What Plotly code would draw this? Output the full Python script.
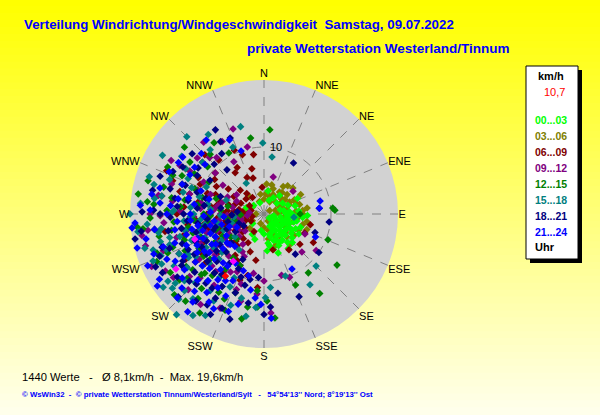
import plotly.graph_objects as go

# wind direction (deg) / wind speed (km/h) pairs, per time-of-day class
h00_03 = [(95,3.5),(110,4.0),(120,3.2),(135,4.5),(150,3.8),(160,4.2),(100,2.5),(80,3.0),(70,3.8),(125,5.0),
          (140,5.5),(155,5.2),(170,4.8),(115,2.0),(105,4.6),(90,4.2),(85,5.2),(130,2.8),(145,3.0),(165,3.5),
          (175,5.5),(60,3.2),(50,2.5),(40,3.6),(30,2.8),(20,2.2),(75,4.8),(65,5.5),(110,5.8),(120,6.0),
          (130,4.0),(140,2.2),(150,2.5),(100,1.5),(95,5.8),(88,3.2),(115,1.2),(160,6.2),(180,3.0),(190,2.5),
          (200,4.0),(210,3.5),(230,2.2),(250,3.0),(270,4.2),(290,2.8),(310,2.0),(340,1.8),(10,3.5),(135,6.0),
          (145,6.3),(125,3.0),(118,4.3),(102,5.0),(92,6.5),(155,2.0),(165,3.2),(172,4.4),(138,1.8),(128,1.0),
          (100,3.8),(110,2.8),(120,4.8),(130,5.5),(140,4.0),(150,4.8),(160,3.0),(95,4.8),(105,3.3),(115,5.2),
          (125,4.0),(135,3.5),(145,4.8),(155,4.3),(85,3.8),(75,2.5),(165,5.5),(112,3.6),(122,2.2),(142,3.8)]
h03_06 = [(60,3.0),(70,4.0),(80,3.5),(90,4.5),(100,3.0),(110,4.0),(120,3.5),(45,2.5),(30,3.0),(20,4.0),
          (10,3.5),(350,3.0),(340,2.0),(50,4.5),(65,5.0),(75,5.5),(85,5.8),(95,5.2),(105,6.0),(115,5.7),
          (125,5.5),(135,4.8),(145,4.0),(155,3.5),(165,2.5),(40,4.2),(55,3.8),(35,5.0),(25,2.0),(15,2.8),
          (5,4.5),(88,2.2),(98,1.5),(72,1.8),(130,2.0),(150,1.2),(180,2.0),(200,1.5),(240,2.0),(260,2.5),
          (280,3.0),(300,2.0),(320,3.5),(62,6.2),(82,6.5),(110,6.8),(140,6.0),(160,5.0),(170,3.8),(48,5.8),
          (0,2.2),(225,3.0),(270,1.2),(58,1.0),(118,2.8),(55,3.2),(65,4.2),(75,3.0),(85,4.8),(95,3.8),
          (105,4.5),(115,3.2),(45,3.5),(35,4.0),(25,3.2),(15,4.5),(5,3.0),(70,5.0),(90,5.8),(100,6.5),
          (120,4.8),(130,4.2),(60,2.5),(80,2.8),(40,5.5)]
h06_09 = [(294,15.9),(299,11.2),(340,9.4),(343,5.6),(356,4.0),(103,7.1),(115,6.7),(166,5.5),(209,4.9),(315,12.5),
          (305,9.0),(325,7.5),(285,13.0),(200,10.5),(190,7.0),(250,3.0),(260,4.2),(270,2.5),(280,3.8),(290,4.5),
          (240,5.0),(255,6.2),(265,7.0),(275,5.5),(285,6.8),(300,5.2),(310,3.5),(230,6.5),(245,8.0),(260,9.2),
          (270,8.5),(280,10.0),(235,3.5),(220,4.8),(215,7.5),(250,10.5),(258,1.8),(268,5.0),(292,7.8),(300,2.5),
          (320,4.0),(230,9.0),(262,11.5),(248,7.2),(238,11.0),(275,3.2),(285,2.0),(255,4.8),(242,2.2),(268,6.2),
          (278,8.0),(252,5.6),(295,10.5),(226,5.8),(210,3.0),(245,4.0),(255,2.8),(265,3.5),(275,4.5),(285,5.5),
          (295,3.8),(305,6.5),(315,5.0),(325,3.0),(335,6.0),(250,6.8),(260,5.8),(270,6.0),(280,7.2),(290,9.0),
          (300,8.2),(310,9.5),(320,10.5),(240,7.8),(230,4.2),(220,6.2),(210,8.0),(255,8.8),(265,10.2),(275,12.0),
          (285,11.5),(245,10.0),(235,12.5),(225,9.8),(200,6.0),(330,8.0),(345,7.0),(350,9.0),(335,10.5),(310,12.0),
          (300,13.5),(290,14.5),(270,13.0),(255,12.5),(240,13.5),(230,11.5),(215,10.5),(205,8.5),(195,9.5),(185,11.0),
          (130,7.0),(145,6.5),(120,8.5),(260,15.0),(280,15.5)]
h09_12 = [(316,11.7),(346,10.3),(14,5.7),(52,5.5),(135,8.0),(116,6.8),(176,14.8),(164,9.5),(158,10.2),(255,18.3),
          (269,15.5),(320,14.0),(300,16.0),(240,17.0),(230,14.5),(200,12.0),(190,9.0),(125,9.5),(330,9.0),(262,17.5),
          (240,6.0),(250,7.5),(260,8.0),(270,6.5),(280,7.0),(290,8.5),(235,9.5),(245,10.5),(255,5.0),(265,4.0),
          (275,9.5),(230,7.0),(220,8.2),(215,5.5),(225,11.0),(285,11.5),(295,6.0),(305,7.5),(248,3.5),(258,11.8),
          (268,10.5),(238,4.5),(252,9.0),(262,6.8),(272,12.5),(244,12.8),(228,3.8),(210,6.5),(205,9.5),(282,4.8),
          (298,10.2),(236,8.6),(246,5.8),(256,10.0),(266,8.8),(240,8.2),(250,11.0),(260,12.5),(270,8.0),(280,9.5),
          (290,10.5),(300,12.8),(310,9.5),(230,9.5),(220,11.2),(210,10.0),(225,13.5),(235,11.8),(245,14.0),(255,13.5),
          (265,15.0),(275,7.5),(285,6.5),(295,4.5),(305,5.0),(215,13.0),(205,7.0),(248,4.8),(258,3.5),(268,5.5),
          (238,6.8),(228,5.0),(278,13.8),(288,14.5),(198,11.0),(195,13.5),(205,15.5),(215,16.5),(310,13.0),(320,11.0),
          (330,12.5),(300,14.5),(290,13.0),(280,16.0),(270,17.0),(260,18.5),(250,16.0),(245,18.5),(235,16.5),(225,16.0),
          (185,12.0),(180,10.0),(340,13.5),(265,2.5),(275,2.2)]
h12_15 = [(4,12.6),(85,10.3),(87,10.6),(90,5.4),(112,10.3),(125,13.3),(143,11.0),(156,11.6),(174,15.6),(184,13.9),
          (279,19.0),(263,18.2),(293,14.8),(213,17.6),(190,14.1),(310,15.5),(300,12.0),(325,13.0),(275,16.5),(250,17.0),
          (232,16.0),(200,12.5),(145,14.5),(240,8.5),(250,10.0),(260,11.5),(270,9.0),(280,12.0),(230,10.5),(220,12.0),
          (245,13.0),(255,7.0),(265,13.5),(275,6.5),(285,9.5),(235,6.0),(225,8.0),(215,10.0),(205,8.5),(262,5.5),
          (252,12.5),(242,11.0),(232,13.5),(290,11.0),(272,14.5),(248,6.0),(258,9.5),(238,9.0),(228,5.5),(268,8.0),
          (278,10.0),(288,7.5),(240,11.5),(250,14.5),(260,14.0),(270,15.5),(280,14.0),(290,13.0),(230,15.0),(220,14.5),
          (210,13.5),(235,11.0),(245,9.5),(255,11.0),(265,10.5),(275,12.5),(285,15.5),(295,13.5),(225,12.5),(215,8.0),
          (205,14.0),(248,15.5),(258,16.0),(268,17.0),(238,16.5),(228,18.0),(218,16.0),(300,9.5),(310,11.0),(262,8.5),
          (252,7.5),(242,7.0),(192,16.0),(202,15.5),(212,11.0),(222,17.5),(305,13.5),(318,12.0),(330,10.5),(296,16.0),
          (286,18.0),(276,17.5),(264,19.0),(246,17.5),(236,14.0),(226,13.0),(185,11.5),(178,13.0),(258,4.5),(268,3.5),
          (282,5.5),(350,11.5)]
h15_18 = [(315,16.3),(359,10.6),(8,8.6),(270,20.0),(248,16.6),(252,17.4),(247,18.0),(234,18.6),(231,17.6),(221,19.9),
          (226,16.5),(179,12.5),(147,12.6),(161,9.8),(330,5.3),(96,4.5),(300,17.5),(285,17.0),(262,19.0),(240,15.5),
          (210,15.0),(195,13.0),(135,11.0),(320,12.5),(290,15.0),(256,14.5),(240,10.0),(250,11.5),(260,9.0),(270,10.5),
          (280,8.5),(230,12.0),(245,8.0),(255,13.0),(265,12.0),(275,11.0),(235,14.0),(225,9.5),(220,13.0),(215,11.5),
          (285,12.5),(295,9.5),(248,6.5),(258,7.0),(238,7.5),(268,6.5),(242,12.8),(252,14.8),(228,11.0),(262,15.5),
          (272,13.5),(232,5.5),(205,10.5),(290,6.0),(240,13.0),(250,15.5),(260,16.0),(270,14.0),(280,15.5),(290,11.5),
          (300,13.5),(230,15.5),(220,16.5),(210,12.5),(225,14.5),(235,9.0),(245,11.0),(255,10.0),(265,9.5),(275,8.0),
          (285,10.0),(295,12.5),(215,14.0),(205,12.0),(248,9.5),(258,12.0),(268,11.0),(238,12.0),(228,8.5),(278,16.5),
          (288,18.0),(244,17.0),(254,18.5),(232,16.8),(190,15.5),(200,14.5),(210,17.5),(215,18.5),(305,15.0),(310,12.0),
          (325,14.5),(335,11.0),(275,18.5),(265,17.5),(255,16.0),(245,14.0),(235,17.5),(225,18.0),(185,14.0),(175,11.0),
          (265,4.5),(255,5.0),(215,6.5),(345,13.5)]
h18_21 = [(329,12.6),(30,8.8),(84,8.3),(97,9.8),(110,8.1),(142,7.6),(157,13.4),(176,13.9),(271,18.2),(259,19.6),
          (248,16.8),(226,17.8),(204,15.4),(212,16.0),(336,12.4),(320,8.6),(310,14.0),(290,16.5),(240,17.5),(195,11.0),
          (185,9.5),(170,12.0),(300,11.5),(125,10.0),(235,8.0),(245,9.5),(255,10.5),(265,8.5),(275,10.0),(285,9.0),
          (225,10.0),(215,9.0),(205,7.5),(240,12.0),(250,13.0),(260,12.5),(270,12.0),(280,13.5),(230,13.5),(220,11.5),
          (210,12.5),(248,6.0),(258,5.5),(268,4.8),(238,5.0),(228,6.5),(292,7.0),(302,9.5),(252,8.0),(262,10.0),
          (242,10.5),(232,9.0),(278,6.5),(200,10.0),(240,14.0),(250,15.0),(260,14.5),(270,15.5),(280,11.5),(290,12.5),
          (300,14.0),(230,11.0),(220,13.5),(210,14.5),(200,12.5),(235,10.5),(245,12.5),(255,7.5),(265,11.5),(275,13.0),
          (285,14.5),(225,8.0),(215,11.0),(205,9.0),(248,11.0),(258,9.0),(268,14.0),(238,14.5),(228,15.0),(218,16.5),
          (278,9.0),(288,10.5),(252,16.0),(262,16.5),(190,13.5),(198,16.5),(208,17.0),(215,13.5),(305,12.0),(315,10.5),
          (325,11.0),(295,15.0),(282,17.0),(272,16.5),(262,18.5),(244,18.0),(234,16.0),(224,14.5),(180,15.0),(192,10.0),
          (250,4.0),(240,3.5),(275,4.0),(330,14.5)]
h21_24 = [(335,12.2),(77,8.6),(84,8.3),(114,8.4),(153,9.2),(186,12.6),(176,15.6),(266,19.3),(276,15.6),(301,14.9),
          (305,14.8),(264,19.8),(255,19.6),(238,18.4),(228,16.5),(219,16.9),(236,19.2),(290,13.0),(250,17.5),(196,14.0),
          (310,11.5),(280,17.0),(245,16.0),(230,8.0),(240,9.0),(250,8.5),(260,10.0),(270,11.0),(220,9.5),(225,11.5),
          (235,12.5),(245,11.0),(255,12.0),(265,13.0),(215,12.0),(210,8.5),(205,11.0),(240,6.5),(250,5.5),(232,7.0),
          (222,6.5),(242,13.5),(252,14.0),(262,7.5),(272,8.0),(282,11.5),(228,10.0),(238,10.5),(248,9.8),(258,8.2),
          (218,10.5),(212,13.0),(235,14.5),(275,14.0),(285,8.5),(200,9.0),(230,12.0),(240,11.5),(250,10.5),(260,13.5),
          (270,14.5),(280,13.0),(220,13.0),(225,14.0),(235,10.0),(245,8.0),(255,9.5),(265,11.0),(215,9.5),(210,11.5),
          (205,13.5),(232,15.5),(242,15.0),(252,15.8),(262,16.5),(272,17.0),(222,15.5),(212,15.5),(228,6.8),(238,8.5),
          (248,12.5),(258,11.0),(268,9.0),(278,10.5),(290,10.0),(298,12.5),(190,11.5),(200,15.5),(208,16.0),(216,14.5),
          (304,12.5),(314,13.0),(322,14.0),(294,15.5),(284,16.0),(274,18.5),(258,18.0),(246,19.0),(226,18.0),(218,18.5),
          (182,13.5),(194,9.5),(244,4.5),(256,6.5),(266,6.0),(340,10.0)]
latest = [(213,8.4),(238,15.5),(250,11.0)]
current = [(212,10.9)]

classes = ["00...03", "03...06", "06...09", "09...12", "12...15", "15...18", "18...21", "21...24"]
class_colors = ["#00FF00", "#808000", "#800000", "#800080", "#008000", "#008080", "#000080", "#0000FF"]
class_data = [h00_03, h03_06, h06_09, h09_12, h12_15, h15_18, h18_21, h21_24]

directions = ["N", "NNE", "NE", "ENE", "E", "ESE", "SE", "SSE", "S", "SSW", "SW", "WSW", "W", "WNW", "NW", "NNW"]
dir_angles = [i * 22.5 for i in range(16)]

W, H = 600, 415
def px(x): return x / W
def py(y): return 1 - y / H

FONT = "Arial, Liberation Sans, sans-serif"
MSIZE = 5.8

fig = go.Figure()
draw_order = [1, 0, 2, 3, 4, 5, 6, 7]
for i in draw_order:
    pts = class_data[i]
    fig.add_trace(go.Scatterpolar(
        theta=[p[0] for p in pts], r=[p[1] for p in pts], mode="markers",
        marker=dict(symbol="diamond", size=MSIZE, color=class_colors[i], line=dict(width=0)),
        name=classes[i], showlegend=False, hoverinfo="skip"))
fig.add_trace(go.Scatterpolar(theta=[p[0] for p in latest], r=[p[1] for p in latest], mode="markers",
                              marker=dict(symbol="diamond", size=MSIZE, color="#FF00FF"), showlegend=False))
fig.add_trace(go.Scatterpolar(theta=[p[0] for p in current], r=[p[1] for p in current], mode="markers",
                              marker=dict(symbol="diamond", size=MSIZE, color="#FF0000"), showlegend=False))

# background gradient yellow -> pale
shapes = []
n = 60
for k in range(n):
    t = k / (n - 1)
    b = int(235 * t)
    shapes.append(dict(type="rect", xref="paper", yref="paper", x0=0, x1=1,
                       y0=1 - (k + 1) / n, y1=1 - k / n + 0.002, layer="below",
                       line=dict(width=0), fillcolor="rgb(255,255,%d)" % b))
# legend box with shadow
shapes.append(dict(type="rect", xref="paper", yref="paper", x0=px(530), x1=px(582), y0=py(263), y1=py(70),
                   fillcolor="black", line=dict(width=0)))
shapes.append(dict(type="rect", xref="paper", yref="paper", x0=px(526), x1=px(578), y0=py(259), y1=py(66),
                   fillcolor="white", line=dict(color="black", width=1)))

ann = []
def text(x, y, s, size, color="black", bold=False, anchor="left"):
    ann.append(dict(x=px(x), y=py(y), xref="paper", yref="paper", text="<b>%s</b>" % s if bold else s,
                    showarrow=False, xanchor=anchor, yanchor="middle",
                    font=dict(family=FONT, size=size, color=color)))

text(22, 25, "Verteilung Windrichtung/Windgeschwindigkeit\u00a0\u00a0Samstag, 09.07.2022", 13.3, "#0000FF", True)
text(245, 49, "private Wetterstation Westerland/Tinnum", 13.5, "#0000FF", True)
text(20, 377, "1440 Werte\u00a0\u00a0\u00a0-\u00a0\u00a0\u00a0\u00d8 8,1km/h\u00a0\u00a0-\u00a0\u00a0Max. 19,6km/h", 11.2)
text(20, 394, "\u00a9 WsWin32\u00a0\u00a0-\u00a0\u00a0\u00a9 private Wetterstation Tinnum/Westerland/Sylt\u00a0\u00a0\u00a0-\u00a0\u00a0\u00a054\u00b054'13'' Nord; 8\u00b019'13'' Ost",
     7.8, "#0000FF", True)

# radial ring label
text(268, 147, "10", 11)

text(551, 76, "km/h", 11, "black", True, "center")
text(567, 92, "10,7", 11, "#FF0000", False, "right")
for j, (lab, col) in enumerate(zip(classes, class_colors)):
    text(533, 120 + j * 16, lab, 10.5, col, True)
text(533, 247, "Uhr", 11, "black", True)

fig.update_layout(
    width=W, height=H, margin=dict(l=0, r=0, t=0, b=0),
    paper_bgcolor="#FFFF80", plot_bgcolor="#FFFF80",
    shapes=shapes, annotations=ann, showlegend=False,
    polar=dict(
        domain=dict(x=[px(130), px(398)], y=[py(348), py(80)]),
        bgcolor="#D2D2D2",
        radialaxis=dict(range=[0, 20], tickvals=[10], showticklabels=False, showline=False, ticks="",
                        gridcolor="#808080", griddash="dash", gridwidth=1, angle=90),
        angularaxis=dict(direction="clockwise", rotation=90, tickmode="array", tickvals=dir_angles,
                         ticktext=directions, showline=False, ticks="", gridcolor="#808080",
                         griddash="dash", gridwidth=1,
                         tickfont=dict(family=FONT, size=11, color="black")),
    ),
)

fig.write_html("out.html", config={"displayModeBar": False},
               post_script="document.body.style.margin='0';")
